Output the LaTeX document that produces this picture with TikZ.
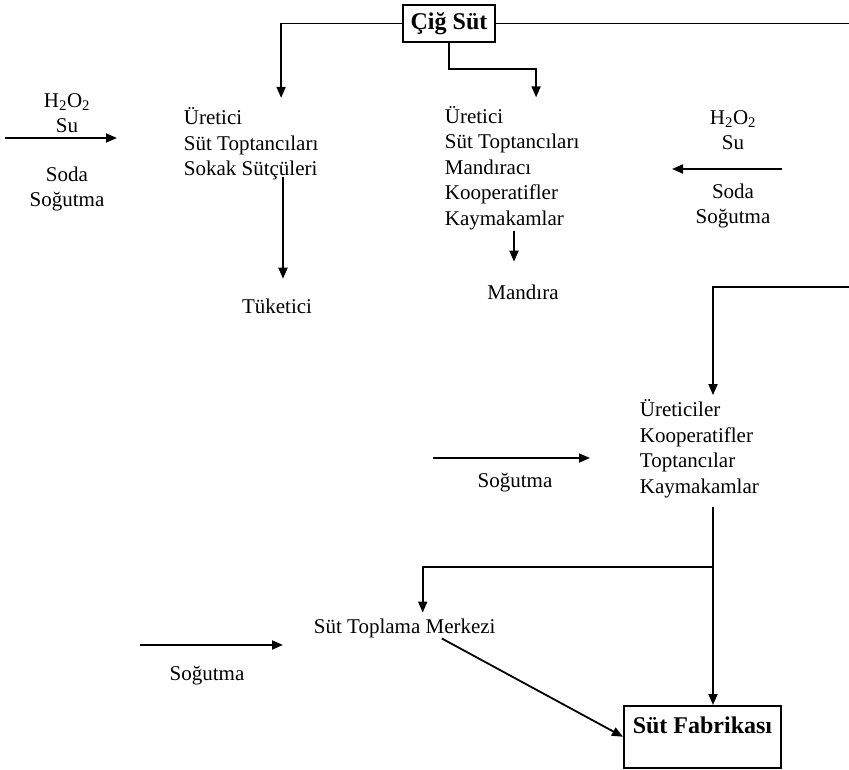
\documentclass[tikz,border=0pt]{standalone}
\usepackage{fontspec}
\setmainfont{Liberation Serif}
\usetikzlibrary{arrows.meta}
\begin{document}
\begin{tikzpicture}
            [x = 1pt, y = -1pt, line width = 1.8pt, >={Triangle[length=11pt, width=9pt]},
             txt/.style = {font = \fontsize{21}{25.5}\selectfont, inner sep = 0pt, align = left},
             mid/.style = {txt, align = center},
             box/.style = {draw, font = \bfseries\fontsize{24}{28}\selectfont, line width = 1.5pt}]
            \useasboundingbox (0,0) rectangle (849,770);
            \node[box, minimum width = 92pt, minimum height = 37pt, inner sep = 3pt] (cig) at (449,23.5) {Çiğ Süt};
            \node[txt, anchor = west] (ure1) at (183,144) {Üretici\\Süt Toptancıları\\Sokak Sütçüleri};
            \node[txt, anchor = west] (ure2) at (444,168) {Üretici\\Süt Toptancıları\\Mandıracı\\Kooperatifler\\Kaymakamlar};
            \node[txt] (tuk) at (277,306) {Tüketici};
            \node[txt] (mand) at (523,292) {Mandıra};
            \node[mid] (hl) at (67,113) {H\textsubscript{2}O\textsubscript{2}\\Su};
            \node[mid] (sl) [below of = hl, node distance = 76pt] {Soda\\Soğutma};
            \node[mid] (hr) at (733,130) {H\textsubscript{2}O\textsubscript{2}\\Su};
            \node[mid] (sr) [below of = hr, node distance = 76pt] {Soda\\Soğutma};
            \node[txt, anchor = west] (ure3) at (639,449) {Üreticiler\\Kooperatifler\\Toptancılar\\Kaymakamlar};
            \node[txt] (s3) at (515,483) {Soğutma};
            \node[txt, anchor = west] (stm) at (313,628) {Süt Toplama Merkezi};
            \node[txt] (s4) at (207,676) {Soğutma};
            \node[box, anchor = north west, text height = 25pt, text depth = 31pt, inner xsep = 9pt, inner ysep = 3pt] (fab) at (623,705) {Süt Fabrikası};
            \coordinate (a1) at (5,138);
            \coordinate (a2) at (117,138);
            \coordinate (b1) at (782,169);
            \coordinate (b2) at (672,169);
            \coordinate (c1) at (433,458);
            \coordinate (c2) at (590,458);
            \coordinate (d1) at (140,645);
            \coordinate (d2) at (283,645);
            \coordinate (e1) at (849,25);
            \coordinate (e2) at (849,287);
            \coordinate (br) at (713,567);
            \draw[->, shorten > = 9pt] (cig.west) -| ([xshift = 30pt]ure1.north);
            \draw[->, shorten > = 8pt] (cig.south) |- ++(0,26) -| ([xshift = 24pt]ure2.north);
            \draw (cig.east) -- (cig.east -| e1);
            \draw[->, shorten < = -4pt, shorten > = 19pt] ([xshift = 6pt]tuk.north |- ure1.south) -- ([xshift = 6pt]tuk.north);
            \draw[->, shorten > = 22pt] ([xshift = -9pt]mand.north |- ure2.south) -- ([xshift = -9pt]mand.north);
            \draw[->] (a1) -- (a2);
            \draw[->] (b1) -- (b2);
            \draw[->, shorten > = 4pt] (e2) -| (br |- ure3.north);
            \draw[->] (c1) -- (c2);
            \draw[->, shorten < = 8pt] (br |- ure3.south) -- (br |- fab.north);
            \draw[->, shorten > = 5pt] (br) -| ([xshift = 18pt]stm.north);
            \draw[->] (d1) -- (d2);
            \draw[->] ([xshift = 37pt]stm.south) -- (fab.west);
        \end{tikzpicture}
\end{document}
